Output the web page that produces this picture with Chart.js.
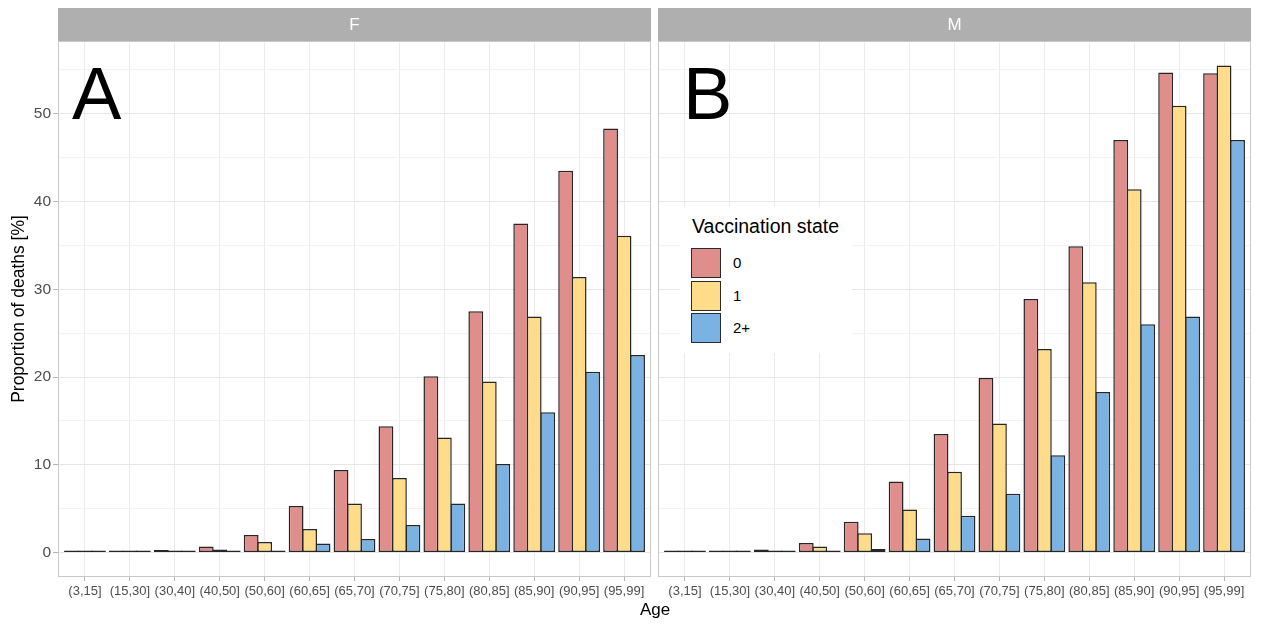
<!DOCTYPE html>
<html>
<head>
<meta charset="utf-8">
<script src="https://cdn.jsdelivr.net/npm/chart.js@4.4.1/dist/chart.umd.min.js"></script>
<style>
  body { margin: 0; background: #fff; font-family: "Liberation Sans", Arial, sans-serif; }
  #wrap { position: relative; width: 1262px; height: 625px; overflow: hidden; }
  .panel { position: absolute; top: 0; height: 625px; }
  #xtitle { position: absolute; left: 655px; top: 600px; transform: translateX(-50%); font-size: 17px; line-height: 20px; color: #000; }
  #legend { position: absolute; left: 680px; top: 207px; width: 172px; height: 146px; background: #fff; }
  #legend .ttl { position: absolute; left: 12px; top: 8px; font-size: 19.5px; line-height: 22px; white-space: nowrap; }
  #legend .key { position: absolute; left: 11px; width: 30px; height: 30px; box-sizing: border-box; border: 1.5px solid #2a2a2a; }
  #legend .lab { position: absolute; left: 53px; font-size: 15px; line-height: 30px; }
</style>
</head>
<body>
<div id="wrap">
  <div class="panel" style="left:0;width:654px"><canvas id="female" width="654" height="625"></canvas></div>
  <div class="panel" style="left:654px;width:608px"><canvas id="male" width="608" height="625"></canvas></div>
  <div id="xtitle">Age</div>
  <div id="legend"></div>
</div>
<script>
// age bands and vaccination states
const ageGroups = ['(3,15]', '(15,30]', '(30,40]', '(40,50]', '(50,60]', '(60,65]', '(65,70]',
                   '(70,75]', '(75,80]', '(80,85]', '(85,90]', '(90,95]', '(95,99]'];
const vaccStates = ['0', '1', '2+'];
const fillColors = ['#E08E8B', '#FFDC8A', '#7AB2E4'];

// proportion of deaths [%] per age band, women
const female0 = [0.1, 0.1, 0.3, 0.7, 2.0, 5.3, 9.4, 14.4, 20.1, 27.5, 37.5, 43.5, 48.3];
const female1 = [0.05, 0.05, 0.15, 0.35, 1.2, 2.7, 5.6, 8.5, 13.1, 19.5, 26.9, 31.4, 36.1];
const female2 = [0.02, 0.03, 0.05, 0.1, 0.25, 1.05, 1.55, 3.15, 5.6, 10.1, 16.0, 20.6, 22.5];
// same for men
const male0 = [0.05, 0.1, 0.35, 1.1, 3.5, 8.1, 13.5, 19.9, 28.9, 34.9, 47.0, 54.7, 54.6];
const male1 = [0.03, 0.05, 0.2, 0.7, 2.2, 4.9, 9.2, 14.7, 23.2, 30.8, 41.4, 50.9, 55.5];
const male2 = [0.02, 0.03, 0.05, 0.15, 0.4, 1.6, 4.2, 6.7, 11.1, 18.3, 26.0, 26.9, 47.0];

const yTicks = [0, 5, 10, 15, 20, 25, 30, 35, 40, 45, 50, 55];

Chart.defaults.font.family = "'Liberation Sans', Arial, sans-serif";
Chart.defaults.animation = false;

// strip on top, panel border and the big letter
const facetPlugin = {
    id: 'facet',
    afterDatasetsDraw(chart, args, opts) {
        const a = chart.chartArea, ctx = chart.ctx;
        ctx.save();
        ctx.fillStyle = '#000';
        ctx.font = "74px 'Liberation Sans', Arial, sans-serif";
        ctx.textBaseline = 'alphabetic';
        ctx.fillText(opts.tag, a.left + opts.tagX, 119);
        ctx.restore();
    },
    afterDraw(chart, args, opts) {
        const a = chart.chartArea, ctx = chart.ctx;
        ctx.save();
        ctx.strokeStyle = '#C9C9C9';
        ctx.lineWidth = 1;
        ctx.strokeRect(a.left + 0.5, a.top + 0.5, a.right - a.left - 1, a.bottom - a.top - 1);
        ctx.fillStyle = '#AFAFAF';
        ctx.fillRect(a.left, 8, a.right - a.left, a.top - 8);
        ctx.fillStyle = '#fff';
        ctx.font = "17px 'Liberation Sans', Arial, sans-serif";
        ctx.textAlign = 'center';
        ctx.textBaseline = 'middle';
        ctx.fillText(opts.label, (a.left + a.right) / 2, (8 + a.top) / 2 + 1);
        ctx.restore();
    }
};

// bars slightly wider than their slot so neighbours share one outline
function makeDatasets(series) {
    return series.map((vals, k) => ({
        label: vaccStates[k],
        data: vals.map((v, i) => ({ x: i, y: v })),
        backgroundColor: fillColors[k],
        borderColor: '#262626',
        borderWidth: 1.5,
        borderSkipped: false,
        minBarLength: 2,
        categoryPercentage: 0.9,
        barPercentage: 1.1
    }));
}

function makeChart(id, series, facet, showY, padRight) {
    const ctx = document.getElementById(id).getContext('2d');
    return new Chart(ctx, {
        type: 'bar',
        data: { datasets: makeDatasets(series) },
        plugins: [facetPlugin],
        options: {
            responsive: false,
            layout: { padding: { top: 41, right: padRight, left: 0, bottom: 0 } },
            plugins: { legend: { display: false }, tooltip: { enabled: false }, facet: facet },
            scales: {
                x: {
                    type: 'linear',
                    offset: false,
                    min: -0.6,
                    max: 12.6,
                    afterBuildTicks: s => { s.ticks = ageGroups.map((g, i) => ({ value: i })); },
                    afterFit: s => { s.height = 48; },
                    border: { display: false },
                    grid: { offset: false, color: '#EBEBEB', lineWidth: 1, tickColor: '#B3B3B3', tickLength: 4 },
                    ticks: {
                        autoSkip: false, maxRotation: 0, padding: 3,
                        color: '#4D4D4D', font: { size: 13 },
                        callback: v => ageGroups[v]
                    }
                },
                y: {
                    min: -2.78,
                    max: 58.28,
                    afterBuildTicks: s => { s.ticks = yTicks.map(v => ({ value: v })); },
                    afterFit: s => { s.width = showY ? 58 : 4; },
                    border: { display: false },
                    grid: {
                        color: c => (c.tick && c.tick.value % 10 === 0) ? '#E6E6E6' : '#F3F3F3',
                        tickColor: c => (showY && c.tick && c.tick.value % 10 === 0) ? '#B3B3B3' : 'rgba(0,0,0,0)',
                        drawTicks: showY,
                        tickLength: 5
                    },
                    title: {
                        display: showY,
                        text: 'Proportion of deaths [%]',
                        color: '#000',
                        font: { size: 17.5 },
                        padding: { top: 9, bottom: 0 }
                    },
                    ticks: {
                        display: showY,
                        padding: 2,
                        color: '#4D4D4D',
                        font: { size: 15.5 },
                        callback: v => (v % 10 === 0 ? String(v) : '')
                    }
                }
            }
        }
    });
}

makeChart('female', [female0, female1, female2], { label: 'F', tag: 'A', tagX: 14 }, true, 3);
makeChart('male', [male0, male1, male2], { label: 'M', tag: 'B', tagX: 25 }, false, 11);

// legend inside the men's panel
const legend = document.getElementById('legend');
const ttl = document.createElement('div');
ttl.className = 'ttl';
ttl.textContent = 'Vaccination state';
legend.appendChild(ttl);
vaccStates.forEach((s, k) => {
    const top = 41 + k * 32.5;
    const key = document.createElement('div');
    key.className = 'key';
    key.style.top = top + 'px';
    key.style.background = fillColors[k];
    legend.appendChild(key);
    const lab = document.createElement('div');
    lab.className = 'lab';
    lab.style.top = top + 'px';
    lab.textContent = s;
    legend.appendChild(lab);
});
</script>
</body>
</html>
